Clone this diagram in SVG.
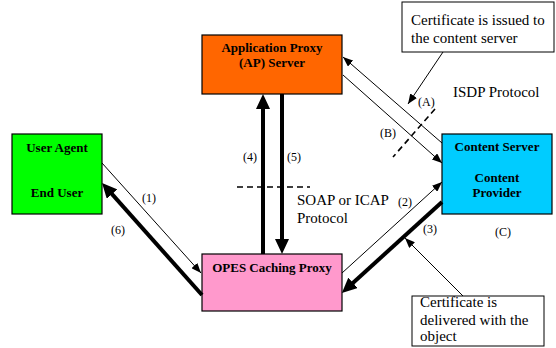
<svg xmlns="http://www.w3.org/2000/svg" width="556" height="348" viewBox="0 0 556 348">
<style>
.box{stroke:#000;stroke-width:1.2}
.note{fill:#fff;stroke:#000;stroke-width:1}
.bl{font-family:"Liberation Serif","Times New Roman",serif;font-weight:bold;font-size:13px;text-anchor:middle;fill:#000}
.t{font-family:"Liberation Serif","Times New Roman",serif;font-size:15px;fill:#000}
.lb{font-family:"Liberation Serif","Times New Roman",serif;font-size:12px;fill:#000}
.thin{stroke:#000;stroke-width:1;fill:none;marker-end:url(#ah)}
.thick{stroke:#000;stroke-width:4;fill:none;marker-end:url(#ahb)}
.dash{stroke:#000;stroke-width:1.6;stroke-dasharray:6,4;fill:none}
</style>
<defs>
<marker id="ah" markerUnits="userSpaceOnUse" markerWidth="10" markerHeight="8" refX="10" refY="4" orient="auto"><path d="M0,0 L10,4 L0,8 z" fill="#000"/></marker>
<marker id="ahb" markerUnits="userSpaceOnUse" markerWidth="16" markerHeight="14" refX="5" refY="7" orient="auto"><path d="M0,0 L15,7 L0,14 z" fill="#000"/></marker>
</defs>
<rect width="556" height="348" fill="#fff"/>
<g id="ap">
<rect class="box" x="202" y="35" width="140" height="59" fill="#FF6600"/>
<text class="bl" x="272" y="52">Application Proxy</text>
<text class="bl" x="272" y="67">(AP) Server</text>
</g>
<g id="ua">
<rect class="box" x="12" y="134" width="90" height="80" fill="#00FF00"/>
<text class="bl" x="57" y="152">User Agent</text>
<text class="bl" x="57" y="197">End User</text>
</g>
<g id="cs">
<rect class="box" x="442" y="134" width="110" height="80" fill="#00CCFF"/>
<text class="bl" x="497" y="151">Content Server</text>
<text class="bl" x="497" y="182">Content</text>
<text class="bl" x="497" y="197">Provider</text>
</g>
<g id="opes">
<rect class="box" x="202" y="254" width="140" height="57" fill="#FF99CC"/>
<text class="bl" x="272" y="272">OPES Caching Proxy</text>
</g>
<g id="note1">
<rect class="note" x="402" y="2" width="152" height="50"/>
<text class="t" x="411" y="25">Certificate is issued to</text>
<text class="t" x="411" y="43">the content server</text>
</g>
<g id="note2">
<rect class="note" x="412" y="296" width="132" height="50"/>
<text class="t" x="420" y="307">Certificate is</text>
<text class="t" x="420" y="325">delivered with the</text>
<text class="t" x="420" y="341">object</text>
</g>
<g id="connectors">
<line class="thin" x1="102" y1="163" x2="201" y2="273"/>
<line class="thick" x1="202" y1="295" x2="108.7" y2="190.4"/>
<line class="thick" x1="263" y1="254" x2="263" y2="104"/>
<line class="thick" x1="282" y1="94" x2="282" y2="244"/>
<line class="thin" x1="442" y1="143" x2="343" y2="57"/>
<line class="thin" x1="343" y1="75" x2="442" y2="163"/>
<line class="thin" x1="342" y1="273" x2="442" y2="182"/>
<line class="thick" x1="442" y1="202" x2="349.3" y2="286.2"/>
<line class="thin" x1="443" y1="52" x2="408" y2="104"/>
<line class="thin" x1="463" y1="296" x2="405" y2="238"/>
<line class="dash" x1="435" y1="109" x2="393" y2="157"/>
<line class="dash" x1="237" y1="187" x2="310" y2="187"/>
</g>
<g id="labels">
<text class="lb" x="142" y="202">(1)</text>
<text class="lb" x="111" y="234">(6)</text>
<text class="lb" x="243" y="161">(4)</text>
<text class="lb" x="287" y="161">(5)</text>
<text class="lb" x="418" y="106">(A)</text>
<text class="lb" x="380" y="137">(B)</text>
<text class="lb" x="398" y="206">(2)</text>
<text class="lb" x="423" y="233">(3)</text>
<text class="lb" x="495" y="236">(C)</text>
<text class="t" x="453" y="97">ISDP Protocol</text>
<text class="t" x="297" y="205">SOAP or ICAP</text>
<text class="t" x="297" y="223">Protocol</text>
</g>
</svg>
